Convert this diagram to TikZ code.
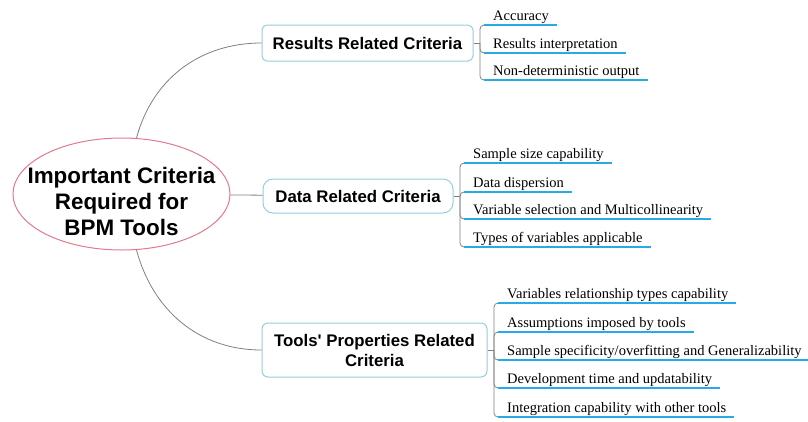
\documentclass[tikz,border=0pt]{standalone}
\usepackage{fontspec}
\setmainfont{Liberation Serif}
\setsansfont{Liberation Sans}
\usetikzlibrary{shapes.geometric}

\definecolor{rootred}{RGB}{226,122,142}
\definecolor{boxblue}{RGB}{150,205,222}
\definecolor{linegray}{RGB}{128,128,128}
\definecolor{ulblue}{RGB}{40,170,230}

\begin{document}
\begin{tikzpicture}[x=1pt,y=-1pt,
    rootshape/.style={ellipse,draw=rootred,line width=1pt,fill=white,
      minimum width=217pt,minimum height=112pt,inner sep=0pt},
    roottext/.style={align=center,inner sep=0pt,
      font=\sffamily\bfseries\fontsize{22.4}{26}\selectfont},
    topic/.style={draw=boxblue,line width=1pt,fill=white,rounded corners=5pt,
      align=center,inner sep=0pt,
      font=\sffamily\bfseries\fontsize{16.8}{20}\selectfont},
    leaf/.style={anchor=base west,inner sep=0pt,
      font=\fontsize{14.5}{17}\selectfont},
    branch/.style={draw=linegray,line width=.8pt},
    uline/.style={draw=ulblue,line width=2pt}]
        \useasboundingbox (0,0) rectangle (808,421);

        %% centre
        \node[rootshape] (root) at (121.5,194) {};
        \node[roottext] (roottxt) at (121.5,201) {Important Criteria\\Required for\\BPM Tools};

        %% main topics
        \node[topic,minimum width=211pt,minimum height=36pt] (res) at (367.5,43) {Results Related Criteria};
        \node[topic,minimum width=190pt,minimum height=34pt,rounded corners=10pt] (data) at (358,196) {Data Related Criteria};
        \node[topic,minimum width=225pt,minimum height=54pt,rounded corners=6pt] (tools) at (374.5,350) {Tools\textquotesingle\ Properties Related\\Criteria};

        \draw[branch] (root.75) to[out=75,in=180] (res.west);
        \draw[branch] (root) -- (data);
        \draw[branch] (root.-75) to[out=-75,in=180] (tools.west);

        %% stubs to the brackets
        \coordinate (rs) at (480,43);
        \coordinate (ds) at (460,196);
        \coordinate (ts) at (494,350);
        \draw[branch] (res.east) -- (rs);
        \draw[branch] (data.east) -- (ds);
        \draw[branch] (tools.east) -- (ts);

        %% results leaves
        \node[leaf] (r1) at (493,20) {Accuracy};
        \node[leaf] (r2) at (493,48) {Results interpretation};
        \node[leaf] (r3) at (493,75) {Non-deterministic output};
        \foreach \n in {r1,r2,r3} {
          \path ([xshift=-9pt,yshift=-5pt]\n.base west) coordinate (\n-a)
                ([xshift=8pt,yshift=-5pt]\n.base east) coordinate (\n-b);
          \draw[branch,rounded corners=4pt] (rs) |- (\n-a);
          \draw[uline] (\n-a) -- (\n-b);
        }

        %% data leaves
        \node[leaf] (d1) at (473,158) {Sample size capability};
        \node[leaf] (d2) at (473,187) {Data dispersion};
        \node[leaf] (d3) at (473,214) {Variable selection and Multicollinearity};
        \node[leaf] (d4) at (473,242) {Types of variables applicable};
        \foreach \n in {d1,d2,d3,d4} {
          \path ([xshift=-9pt,yshift=-5pt]\n.base west) coordinate (\n-a)
                ([xshift=8pt,yshift=-5pt]\n.base east) coordinate (\n-b);
          \draw[branch,rounded corners=4pt] (ds) |- (\n-a);
          \draw[uline] (\n-a) -- (\n-b);
        }

        %% tools leaves
        \node[leaf] (t1) at (507,298) {Variables relationship types capability};
        \node[leaf] (t2) at (507,327) {Assumptions imposed by tools};
        \node[leaf] (t3) at (507,355) {Sample specificity/overfitting and Generalizability};
        \node[leaf] (t4) at (507,383) {Development time and updatability};
        \node[leaf] (t5) at (507,412) {Integration capability with other tools};
        \foreach \n in {t1,t2,t3,t4,t5} {
          \path ([xshift=-9pt,yshift=-5pt]\n.base west) coordinate (\n-a)
                ([xshift=8pt,yshift=-5pt]\n.base east) coordinate (\n-b);
          \draw[branch,rounded corners=4pt] (ts) |- (\n-a);
          \draw[uline] (\n-a) -- (\n-b);
        }
      \end{tikzpicture}
\end{document}
